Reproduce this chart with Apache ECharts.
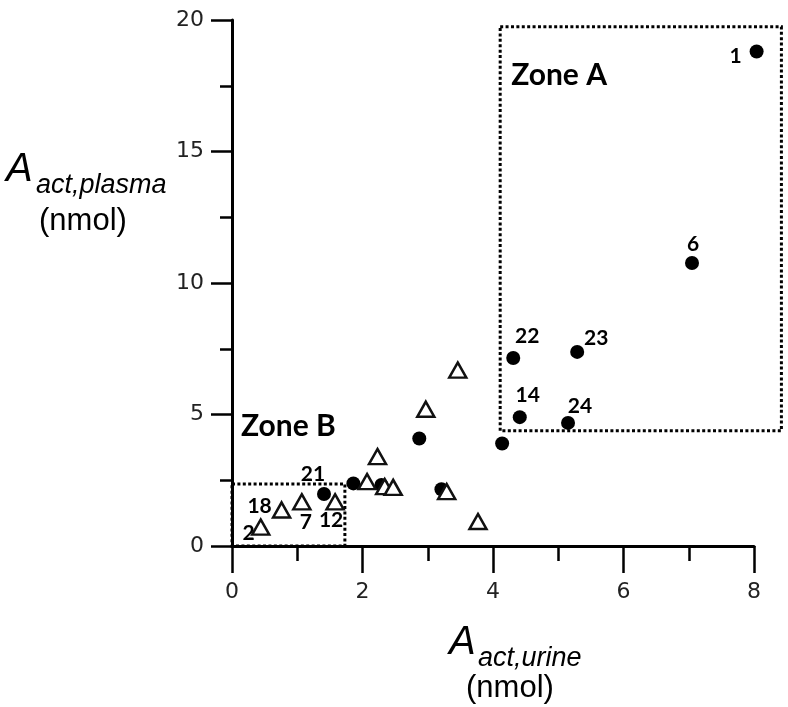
<!DOCTYPE html>
<html>
<head>
<meta charset="utf-8">
<script src="https://cdn.jsdelivr.net/npm/echarts@6/dist/echarts.min.js"></script>
<style>
  html, body { margin: 0; padding: 0; background: #fff; }
  #chart { width: 788px; height: 707px; }
</style>
</head>
<body>
<div id="chart"></div>
<script>
// filled circles
var circleX = [8.04, 7.05, 4.31, 5.29, 4.41, 5.15, 4.14, 2.87, 1.41, 1.86, 2.29, 3.21];
var circleY = [18.8, 10.76, 7.15, 7.38, 4.90, 4.68, 3.90, 4.09, 1.98, 2.38, 2.32, 2.16];
var circleIds = ['1', '6', '22', '23', '14', '24', '', '', '21', '', '', ''];

// open triangles
var triX = [3.46, 2.97, 2.23, 2.07, 2.34, 2.47, 3.29, 3.77, 1.58, 1.07, 0.76, 0.44];
var triY = [6.69, 5.20, 3.40, 2.45, 2.26, 2.23, 2.07, 0.93, 1.68, 1.68, 1.37, 0.72];
var triIds = ['', '', '', '', '', '', '', '', '12', '7', '18', '2'];

// zones: x0, y0, x1, y1
var zoneNames = ['Zone A', 'Zone B'];
var zoneA = [4.11, 4.38, 8.42, 19.74];
var zoneB = [0, 0, 1.73, 2.36];

var xTicks = [0, 8, 2];
var yTicks = [0, 20, 5];

// label offsets (px) from marker centre
var labelOffset = {
    '1': [-21, 5], '6': [1, -19], '22': [14, -22], '23': [19, -14],
    '14': [8, -22], '24': [12, -17], '21': [-11, -20],
    '18': [-22, -4], '7': [4, 20], '12': [-4, 18], '2': [-12, 6]
};
// zone label offset from rectangle top-left (px)
var zoneLabelOffset = [[11, 48], [9, -58]];

var labelFont = 'Lato';

function buildData(xs, ys, ids) {
    var out = [];
    for (var i = 0; i < xs.length; i++) {
        var item = { value: [xs[i], ys[i]] };
        if (ids[i]) {
            item.label = {
                show: true,
                formatter: ids[i],
                position: 'inside',
                offset: labelOffset[ids[i]]
            };
        }
        out.push(item);
    }
    return out;
}

function renderZone(params, api) {
    var p0 = api.coord([api.value(0), api.value(3)]);
    var p1 = api.coord([api.value(2), api.value(1)]);
    var off = zoneLabelOffset[params.dataIndex];
    return {
        type: 'group',
        children: [
            {
                type: 'rect',
                shape: { x: p0[0], y: p0[1], width: p1[0] - p0[0], height: p1[1] - p0[1] },
                style: { fill: 'none', stroke: '#000', lineWidth: 3, lineDash: [3, 2.4] }
            },
            {
                type: 'text',
                x: p0[0] + off[0],
                y: p0[1] + off[1],
                style: {
                    text: zoneNames[params.dataIndex],
                    font: 'bold 30px ' + labelFont,
                    fill: '#000',
                    verticalAlign: 'middle'
                }
            }
        ]
    };
}

var chart = echarts.init(document.getElementById('chart'));

var option = {
    animation: false,
    backgroundColor: '#fff',
    grid: { left: 232, right: 34, top: 20, bottom: 161 },
    xAxis: {
        type: 'value',
        min: xTicks[0], max: xTicks[1], interval: xTicks[2],
        axisLine: { show: true, lineStyle: { color: '#000', width: 3 } },
        axisTick: { show: true, length: 27, lineStyle: { color: '#000', width: 2.5 } },
        minorTick: { show: true, splitNumber: 2, length: 15, lineStyle: { color: '#000', width: 2.5 } },
        axisLabel: { color: '#222', fontSize: 22, fontFamily: 'DejaVu Sans', margin: 35 },
        splitLine: { show: false }
    },
    yAxis: {
        type: 'value',
        min: yTicks[0], max: yTicks[1], interval: yTicks[2],
        axisLine: { show: true, lineStyle: { color: '#000', width: 3 } },
        axisTick: { show: true, length: 21, lineStyle: { color: '#000', width: 2.5 } },
        minorTick: { show: true, splitNumber: 2, length: 12, lineStyle: { color: '#000', width: 2.5 } },
        axisLabel: { color: '#222', fontSize: 22, fontFamily: 'DejaVu Sans', margin: 28 },
        splitLine: { show: false }
    },
    graphic: [
        { type: 'text', left: 6, top: 150, style: { text: 'A', font: 'italic 40px "Liberation Sans"', fill: '#000' } },
        { type: 'text', left: 36, top: 172, style: { text: 'act,plasma', font: 'italic 27px "Liberation Sans"', fill: '#000' } },
        { type: 'text', left: 39, top: 206, style: { text: '(nmol)', font: '31px "Liberation Sans"', fill: '#000' } },
        { type: 'text', left: 449, top: 623, style: { text: 'A', font: 'italic 40px "Liberation Sans"', fill: '#000' } },
        { type: 'text', left: 478, top: 645, style: { text: 'act,urine', font: 'italic 27px "Liberation Sans"', fill: '#000' } },
        { type: 'text', left: 466, top: 673, style: { text: '(nmol)', font: '31px "Liberation Sans"', fill: '#000' } }
    ],
    series: [
        {
            name: 'zones',
            type: 'custom',
            clip: false,
            silent: true,
            renderItem: renderZone,
            data: [zoneA, zoneB]
        },
        {
            name: 'circles',
            type: 'scatter',
            clip: false,
            symbol: 'circle',
            symbolSize: 14,
            itemStyle: { color: '#000', opacity: 1 },
            label: { color: '#000', fontSize: 21, fontWeight: 'bold', fontFamily: labelFont },
            data: buildData(circleX, circleY, circleIds)
        },
        {
            name: 'triangles',
            type: 'scatter',
            clip: false,
            symbol: 'triangle',
            symbolSize: [17, 15],
            itemStyle: { color: '#fff', borderColor: '#111', borderWidth: 2.5, opacity: 1 },
            label: { color: '#000', fontSize: 21, fontWeight: 'bold', fontFamily: labelFont },
            data: buildData(triX, triY, triIds)
        }
    ]
};

chart.setOption(option);
</script>
</body>
</html>
